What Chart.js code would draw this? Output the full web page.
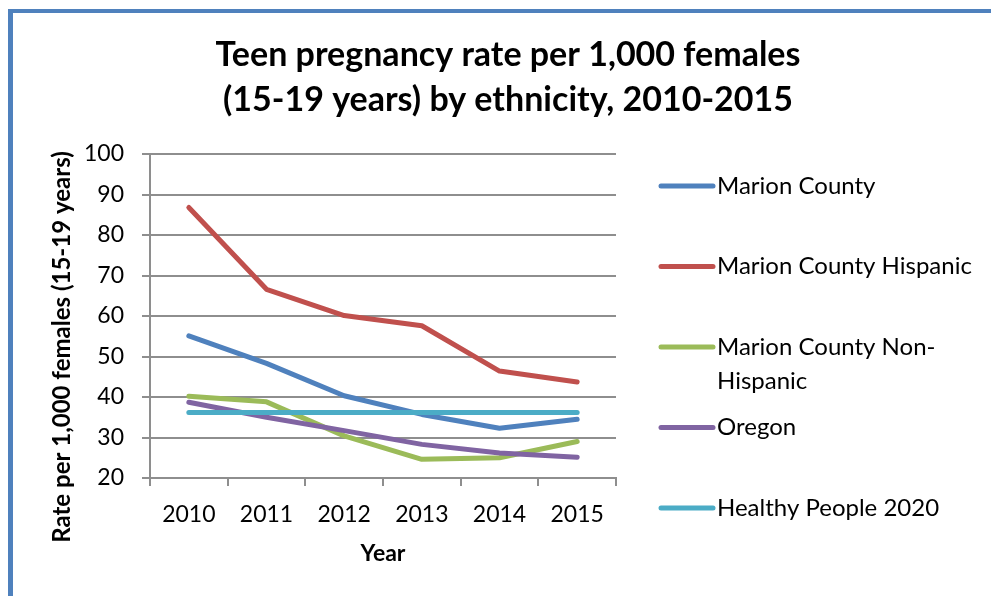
<!DOCTYPE html>
<html>
<head>
<meta charset="utf-8">
<script src="https://cdn.jsdelivr.net/npm/chart.js@4"></script>
<style>
  html, body { margin: 0; padding: 0; background: #fff; }
  #frame {
    position: absolute; left: 8px; top: 9px; width: 983px; height: 587px;
    box-sizing: border-box;
    border-left: 5px solid #4F81BD; border-top: 4px solid #4F81BD;
  }
  #wrap { position: absolute; left: 13px; top: 13px; width: 978px; height: 583px; }
</style>
</head>
<body>
<div id="frame"></div>
<div id="wrap"><canvas id="graph"></canvas></div>
<script>
// 年
const YEARS = ['2010', '2011', '2012', '2013', '2014', '2015'];

// 系列名
const SERIES_NAMES = ['Marion County', 'Marion County Hispanic', 'Marion County Non-Hispanic', 'Oregon', 'Healthy People 2020'];

// 系列データ
const MARION = [55.1, 48.3, 40.3, 35.7, 32.3, 34.5];
const MARION_HISPANIC = [86.8, 66.6, 60.1, 57.6, 46.4, 43.7];
const MARION_NON_HISPANIC = [40.2, 38.8, 30.4, 24.6, 25.0, 29.0];
const OREGON = [38.7, 35.0, 31.7, 28.3, 26.2, 25.1];
const HEALTHY_PEOPLE = [36.2, 36.2, 36.2, 36.2, 36.2, 36.2];

// 線の色
const COLORS = ['#4F81BD', '#C0504D', '#9BBB59', '#8064A2', '#4BACC6'];

// タイトル
const TITLE = ['Teen pregnancy rate per 1,000 females', '(15-19 years) by ethnicity, 2010-2015'];
const Y_TITLE = 'Rate per 1,000 females (15-19 years)';
const X_TITLE = 'Year';

const FONT = 'Lato';
const GRID_COLOR = '#8E8E8E';
const LINE_WIDTH = 5;

/*
  タイトル・凡例・Y軸タイトル描画
*/
const sidePlugin = {
  id: 'side',
  afterDraw(chart) {
    const ctx = chart.ctx;
    ctx.save();
    ctx.fillStyle = '#000';
    ctx.textAlign = 'center';
    ctx.textBaseline = 'middle';

    // グラフタイトル
    ctx.font = 'bold 34px ' + FONT;
    TITLE.forEach(function(line, i) {
      ctx.fillText(line, 495, 42 + i * 45);
    });

    // Y軸タイトル
    ctx.translate(49, 334);
    ctx.rotate(-Math.PI / 2);
    ctx.font = 'bold 24px ' + FONT;
    ctx.fillText(Y_TITLE, 0, 0);
    ctx.restore();

    // 凡例
    ctx.save();
    ctx.font = '24px ' + FONT;
    ctx.textBaseline = 'middle';
    ctx.textAlign = 'left';
    chart.data.datasets.forEach(function(ds, i) {
      let y = 173 + i * 80.5;
      ctx.strokeStyle = ds.borderColor;
      ctx.lineWidth = LINE_WIDTH;
      ctx.lineCap = 'round';
      ctx.beginPath();
      ctx.moveTo(648, y);
      ctx.lineTo(700, y);
      ctx.stroke();
      ctx.fillStyle = '#000';
      wrapText(ctx, ds.label, 268).forEach(function(line, j) {
        ctx.fillText(line, 704, y + j * 34);
      });
    });
    ctx.restore();
  }
};

/*
  折り返し(スペース・ハイフンで分割)
*/
function wrapText(ctx, text, maxWidth) {
  let parts = text.match(/[^ -]+[ -]?/g);
  let lines = [];
  let cur = '';
  parts.forEach(function(p) {
    if (cur && ctx.measureText((cur + p).trim()).width > maxWidth) {
      lines.push(cur.trim());
      cur = p;
    } else {
      cur += p;
    }
  });
  lines.push(cur.trim());
  return lines;
}

let datasets = [MARION, MARION_HISPANIC, MARION_NON_HISPANIC, OREGON, HEALTHY_PEOPLE].map(function(d, i) {
  return {
    label: SERIES_NAMES[i],
    data: d,
    borderColor: COLORS[i],
    backgroundColor: COLORS[i],
    borderWidth: LINE_WIDTH,
    pointRadius: 0,
    fill: false,
    tension: 0,
    borderCapStyle: 'round',
    borderJoinStyle: 'round',
    order: 5 - i
  };
});

new Chart(document.getElementById('graph'), {
  type: 'line',
  data: { labels: YEARS, datasets: datasets },
  options: {
    responsive: true,
    maintainAspectRatio: false,
    animation: false,
    layout: { padding: { left: 0, right: 375, top: 141, bottom: 0 } },
    plugins: {
      legend: { display: false },
      tooltip: { enabled: false },
      title: { display: false }
    },
    scales: {
      x: {
        offset: true,
        grid: { offset: true, drawOnChartArea: false, color: GRID_COLOR, lineWidth: 2, tickLength: 8 },
        border: { color: GRID_COLOR, width: 2 },
        ticks: { color: '#000', font: { family: FONT, size: 23 }, padding: 15, maxRotation: 0 },
        title: { display: true, text: X_TITLE, color: '#000', font: { family: FONT, size: 23, weight: 'bold' }, padding: { top: 0, bottom: 29 } },
        afterFit(axis) { axis.height = 118; }
      },
      y: {
        min: 20,
        max: 100,
        ticks: { stepSize: 10, color: '#000', font: { family: FONT, size: 23 }, padding: 18 },
        grid: { color: GRID_COLOR, lineWidth: 2, tickLength: 8 },
        border: { color: GRID_COLOR, width: 2 },
        afterFit(axis) { axis.width = 137; }
      }
    }
  },
  plugins: [sidePlugin]
});
</script>
</body>
</html>
